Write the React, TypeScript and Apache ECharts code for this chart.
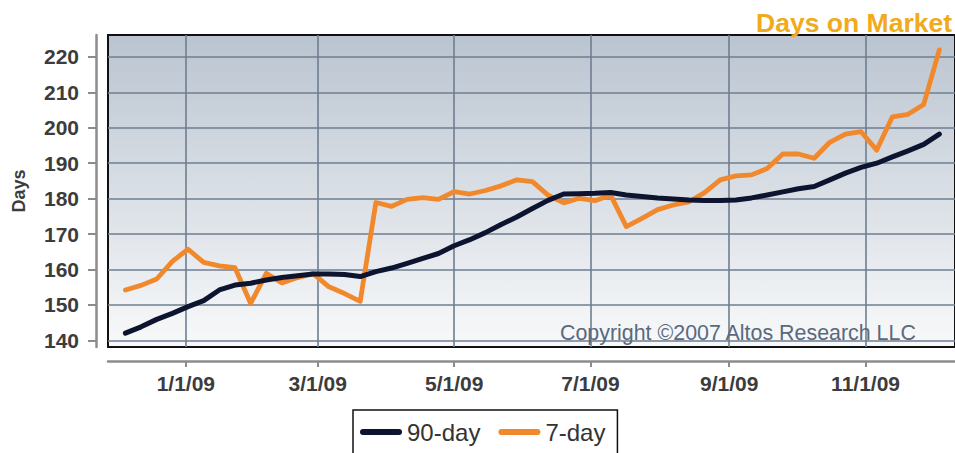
import React, { useEffect, useRef } from "react";
import * as echarts from "echarts";

const DAY = 86400000;
const startDate = Date.UTC(2008, 11, 5);

const sevenDay = [
  154.2, 155.5, 157.3, 162.3, 165.7, 162.0, 161.0, 160.5, 150.4, 158.9,
  156.2, 157.7, 158.8, 155.1, 153.2, 151.0, 178.9, 177.8, 179.8, 180.3,
  179.8, 182.0, 181.3, 182.3, 183.6, 185.3, 184.8, 181.0, 178.8, 180.1,
  179.4, 181.0, 172.1, 174.4, 176.9, 178.2, 179.1, 181.7, 185.3, 186.4,
  186.7, 188.5, 192.6, 192.6, 191.4, 195.9, 198.2, 198.9, 193.7, 203.1,
  203.8, 206.6, 222.0,
];

const ninetyDay = [
  142.0, 143.8, 145.9, 147.6, 149.5, 151.2, 154.2, 155.6, 156.1, 157.0,
  157.7, 158.2, 158.7, 158.7, 158.6, 158.0, 159.4, 160.4, 161.7, 163.1,
  164.5, 166.7, 168.4, 170.4, 172.7, 174.8, 177.2, 179.5, 181.3, 181.4,
  181.5, 181.7, 181.0, 180.6, 180.2, 179.9, 179.6, 179.5, 179.5, 179.6,
  180.2, 181.0, 181.9, 182.8, 183.4, 185.3, 187.2, 188.8, 190.0, 191.8,
  193.5, 195.3, 198.2,
];

const xTickDates = [
  Date.UTC(2009, 0, 1),
  Date.UTC(2009, 2, 1),
  Date.UTC(2009, 4, 1),
  Date.UTC(2009, 6, 1),
  Date.UTC(2009, 8, 1),
  Date.UTC(2009, 10, 1),
];

const yTicks = [140, 150, 160, 170, 180, 190, 200, 210, 220];

const seriesNames = ["90-day", "7-day"];

const FONT = "'Liberation Sans', Arial, Helvetica, sans-serif";

function fmtDate(v: number) {
  const d = new Date(v);
  const yy = String(d.getUTCFullYear() % 100).padStart(2, "0");
  return `${d.getUTCMonth() + 1}/${d.getUTCDate()}/${yy}`;
}

export default function App() {
  const ref = useRef<HTMLDivElement>(null);

  useEffect(() => {
    if (!ref.current) return;
    const chart = echarts.init(ref.current, undefined, { renderer: "svg" });

    const toPairs = (arr: number[]) =>
      arr.map((v, i) => [startDate + i * 7 * DAY, v]);

    const xMin = Date.UTC(2009, 0, 1) - 34.8 * DAY;
    const xMax = Date.UTC(2009, 0, 1) + 344.0 * DAY;

    const gridLineStyle = { color: "#6e7e90", width: 1.6 };

    chart.setOption({
      animation: false,
      grid: {
        left: 108,
        top: 35,
        right: -2,
        bottom: 106,
        show: true,
        borderColor: "#111",
        borderWidth: 2,
        backgroundColor: new echarts.graphic.LinearGradient(0, 0, 0, 1, [
          { offset: 0, color: "#bac4d0" },
          { offset: 1, color: "#f8f9fa" },
        ]),
      },
      xAxis: {
        type: "value",
        min: xMin,
        max: xMax,
        offset: 14,
        axisLine: { show: true, lineStyle: { color: "#8c8c8c", width: 2.5 } },
        axisTick: {
          show: true,
          length: 6,
          customValues: xTickDates,
          lineStyle: { color: "#8c8c8c", width: 2 },
        },
        axisLabel: {
          customValues: xTickDates,
          formatter: (v: number) => fmtDate(v),
          fontFamily: FONT,
          fontSize: 21,
          fontWeight: "bold",
          color: "#3c3c3c",
          margin: 12,
        },
        splitLine: { show: true, lineStyle: gridLineStyle },
      },
      yAxis: {
        type: "value",
        min: 138.1,
        max: 226.2,
        offset: 12,
        name: "Days",
        nameLocation: "middle",
        nameGap: 68,
        nameTextStyle: {
          fontFamily: FONT,
          fontSize: 18,
          fontWeight: "bold",
          color: "#3c3c3c",
        },
        axisLine: { show: true, lineStyle: { color: "#8c8c8c", width: 2.5 } },
        axisTick: {
          show: true,
          length: 8,
          customValues: yTicks,
          lineStyle: { color: "#8c8c8c", width: 2 },
        },
        axisLabel: {
          customValues: yTicks,
          fontFamily: FONT,
          fontSize: 21,
          fontWeight: "bold",
          color: "#3c3c3c",
          margin: 17,
        },
        splitLine: { show: true, lineStyle: gridLineStyle },
      },
      legend: {
        data: seriesNames,
        left: 353,
        top: 410,
        orient: "horizontal",
        itemWidth: 42,
        itemHeight: 7,
        itemGap: 18,
        padding: [10, 12, 12, 7],
        borderColor: "#111",
        borderWidth: 1.5,
        icon: "path://M3,0 H39 A3,3 0 0 1 39,6 H3 A3,3 0 0 1 3,0 Z",
        textStyle: {
          fontFamily: FONT,
          fontSize: 24,
          color: "#333",
        },
      },
      graphic: [
        {
          type: "text",
          right: 3,
          top: 9,
          style: {
            text: "Days on Market",
            fontFamily: FONT,
            fontSize: 26.5,
            fontWeight: "bold",
            fill: "#f0aa1c",
          },
          z: 10,
        },
        {
          type: "text",
          left: 560,
          top: 322,
          style: {
            text: "Copyright \u00a92007 Altos Research LLC",
            fontFamily: FONT,
            fontSize: 21.4,
            fill: "#5a697c",
          },
          z: 10,
        },
      ],
      series: [
        {
          name: "90-day",
          type: "line",
          data: toPairs(ninetyDay),
          showSymbol: false,
          symbol: "none",
          z: 4,
          color: "#0c1430",
          lineStyle: { color: "#0c1430", width: 5, cap: "round", join: "round" },
        },
        {
          name: "7-day",
          type: "line",
          data: toPairs(sevenDay),
          showSymbol: false,
          symbol: "none",
          z: 3,
          color: "#f1882b",
          lineStyle: { color: "#f1882b", width: 4.8, cap: "round", join: "round" },
        },
      ],
    });

    return () => chart.dispose();
  }, []);

  return (
    <div
      ref={ref}
      style={{
        position: "fixed",
        left: 0,
        top: 0,
        width: 955,
        height: 453,
        background: "#fff",
      }}
    />
  );
}
